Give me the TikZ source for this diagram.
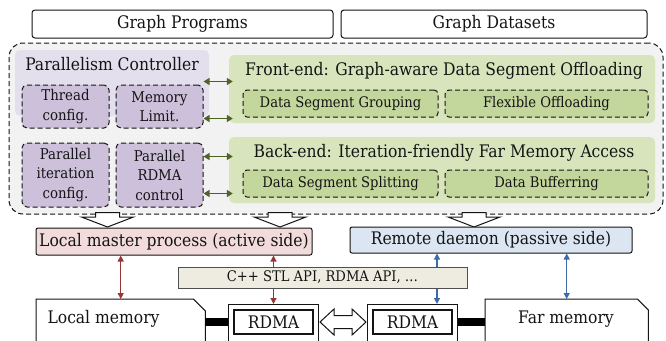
\documentclass[tikz,border=0pt]{standalone}
\usepackage{fontspec}
\setmainfont{DejaVu Serif Condensed}
\usetikzlibrary{arrows.meta,calc}

\definecolor{regionfill}{HTML}{F2F2F2}
\definecolor{ctrlfill}{HTML}{E4DFEC}
\definecolor{ctrlbox}{HTML}{CCC0DA}
\definecolor{panelfill}{HTML}{D7E4BC}
\definecolor{subfill}{HTML}{C3D69B}
\definecolor{linkgreen}{HTML}{4F6228}
\definecolor{linkred}{HTML}{953735}
\definecolor{linkblue}{HTML}{3C6CA8}
\definecolor{masterfill}{HTML}{F2DCDB}
\definecolor{daemonfill}{HTML}{DCE6F2}
\definecolor{apifill}{HTML}{EEECE1}
\definecolor{ink}{HTML}{141414}

\tikzset{
  bigfont/.style={font=\fontsize{17.3}{19}\selectfont},
  midfont/.style={font=\fontsize{14.8}{19.5}\selectfont},
  smallfont/.style={font=\fontsize{14.6}{16}\selectfont},
  dashstyle/.style={dash pattern=on 5pt off 3pt},
  topbox/.style={draw=ink, line width=1pt, rounded corners=3pt, fill=white, bigfont, inner sep=0pt},
  region/.style={draw=ink, dashstyle, line width=1pt, rounded corners=14pt, fill=regionfill},
  ctrlpanel/.style={fill=ctrlfill, rounded corners=5pt, inner sep=0pt},
  ctrlitem/.style={draw=ink, dashstyle, line width=1pt, rounded corners=5pt, fill=ctrlbox, midfont, align=center, inner sep=0pt},
  panel/.style={fill=panelfill, rounded corners=5pt, inner sep=0pt},
  subitem/.style={draw=ink, dashstyle, line width=1pt, rounded corners=4pt, fill=subfill, smallfont, inner sep=0pt},
  greenlink/.style={draw=linkgreen, line width=1.4pt, {Triangle[length=6pt,width=7pt]}-{Triangle[length=6pt,width=7pt]}},
  redlink/.style={draw=linkred, line width=1.2pt, {Triangle[length=6pt,width=6pt]}-{Triangle[length=6pt,width=6pt]}},
  bluelink/.style={draw=linkblue, line width=1.2pt, {Triangle[length=6pt,width=6pt]}-{Triangle[length=6pt,width=6pt]}},
  procbox/.style={draw=ink, line width=1pt, rounded corners=2pt, bigfont, inner sep=0pt},
  apibox/.style={draw=ink!75, line width=1pt, fill=apifill, smallfont, inner sep=0pt},
  memarea/.style={inner sep=0pt},
  memline/.style={draw=ink, line width=1pt, fill=white, line join=miter},
  rdmaouter/.style={draw=ink, line width=1pt, fill=white, inner sep=0pt},
  rdmainner/.style={draw=ink, line width=1.2pt, fill=white, bigfont, inner sep=0pt},
  hollow/.style={draw=ink, line width=1pt, fill=white, line join=miter},
}

\begin{document}
\begin{tikzpicture}[x=1pt, y=-1pt, text=ink]
\clip (0,0) rectangle (666,340);
\fill[white] (0,0) rectangle (666,340);

% inputs
\node[topbox, minimum width=301, minimum height=28] (prog) at (182.5,24) {Graph Programs};
\node[topbox, minimum width=306, minimum height=28] (data) at (494,24) {Graph Datasets};

% dashed runtime region
\node[region, minimum width=654, minimum height=171] (runtime) at (336,128.5) {};

% parallelism controller
\node[ctrlpanel, minimum width=194, minimum height=66] (ctrl) at (112,83) {};
\node[bigfont, anchor=center] (ctrltitle) at (112,64.5) {Parallelism Controller};
\node[ctrlitem, minimum width=87, minimum height=43] (thread) at (65.5,106.5) {Thread\\config.};
\node[ctrlitem, minimum width=87, minimum height=43] (mem) at (159.5,106.5) {Memory\\Limit.};
\node[ctrlitem, minimum width=87, minimum height=64] (iter) at (65.5,175) {Parallel\\iteration\\config.};
\node[ctrlitem, minimum width=87, minimum height=64] (prdma) at (159.5,175) {Parallel\\RDMA\\control};

% front-end
\node[panel, minimum width=426, minimum height=68] (front) at (442,89) {};
\node[bigfont] (fronttitle) at (444,71) {Front-end: Graph-aware Data Segment Offloading};
\node[subitem, minimum width=195, minimum height=27] (group) at (340.5,103.5) {Data Segment Grouping};
\node[subitem, minimum width=203, minimum height=27] (flex) at (546.5,103.5) {Flexible Offloading};

% back-end
\node[panel, minimum width=426, minimum height=66] (back) at (442,170) {};
\node[bigfont] (backtitle) at (444,152.5) {Back-end: Iteration-friendly Far Memory Access};
\node[subitem, minimum width=195, minimum height=27] (split) at (340.5,183.5) {Data Segment Splitting};
\node[subitem, minimum width=203, minimum height=27] (buffer) at (546.5,183.5) {Data Bufferring};

% controller <-> front/back
\coordinate (g1) at ([yshift=3pt]mem.north east);
\coordinate (g2) at ([yshift=10pt]mem.south east);
\coordinate (g3) at ([yshift=-14pt]prdma.north east);
\coordinate (g4) at ([yshift=14pt]prdma.south east);
\coordinate (fw) at ([xshift=4pt]front.west);
\coordinate (bw) at ([xshift=4pt]back.west);
\draw[greenlink] (g1) -- (fw |- g1);
\draw[greenlink] (g2) -- (fw |- g2);
\draw[greenlink] (g3) -- (bw |- g3);
\draw[greenlink] (g4) -- (bw |- g4);

% hollow arrows down from the runtime region
\foreach \cx in {107.5,280,474}{
  \draw[hollow] (\cx-12,212.5) -- (\cx+12,212.5) -- (\cx+12,217) -- (\cx+26,217)
     -- (\cx,227) -- (\cx-26,217) -- (\cx-12,217) -- cycle;
}

% processes
\node[procbox, fill=masterfill, minimum width=276, minimum height=27] (master) at (174,241.5) {Local master process (active side)};
\node[procbox, fill=daemonfill, minimum width=282, minimum height=26] (daemon) at (491,240) {Remote daemon (passive side)};

% memories: boxes with a cut top-right corner
\node[memarea, minimum width=169, minimum height=62, anchor=north west] (lmem) at (36,299) {};
\draw[memline] (lmem.south west) -- (lmem.north west) -- ([xshift=-12pt]lmem.north east)
   -- ([yshift=-12pt]lmem.north east) -- (lmem.south east);
\node[bigfont] (lmemtext) at (103.5,319) {Local memory};
\node[memarea, minimum width=163, minimum height=62, anchor=north west] (fmem) at (485,299) {};
\draw[memline] (fmem.south west) -- (fmem.north west) -- ([xshift=-11pt]fmem.north east)
   -- ([yshift=-11pt]fmem.north east) -- (fmem.south east);
\node[bigfont] (fmemtext) at (566,319) {Far memory};

% RDMA NICs
\node[rdmaouter, minimum width=90, minimum height=50, anchor=north west] (nic1) at (228,304) {};
\node[rdmainner, minimum width=79, minimum height=24] (rdma1) at (273.5,322) {RDMA};
\node[rdmaouter, minimum width=90, minimum height=50, anchor=north west] (nic2) at (367,304) {};
\node[rdmainner, minimum width=79, minimum height=24] (rdma2) at (412.5,322) {RDMA};

% cables
\draw[line width=8pt, draw=black] (lmem.east |- rdma1.center) -- (nic1.west |- rdma1.center);
\draw[line width=8pt, draw=black] (nic2.east |- rdma2.center) -- (fmem.west |- rdma2.center);

% process <-> memory / NIC links
\coordinate (nicport) at ([xshift=-21pt]nic2.north east);
\draw[redlink] (master.south -| lmem.north) -- (lmem.north);
\draw[redlink] (master.south -| nic1.north) -- (nic1.north);
\draw[bluelink] (daemon.south -| nicport) -- (nicport);
\draw[bluelink] (daemon.south -| fmem.north) -- (fmem.north);

% API layer over the links
\node[apibox, minimum width=289, minimum height=21] (api) at (322.5,277.5) {C++ STL API, RDMA API, \dots};

% NIC-to-NIC transfer
\coordinate (xl) at (nic1.east |- rdma1.center);
\coordinate (xr) at (nic2.west |- rdma2.center);
\draw[hollow] ($(xl)+(1,0)$) -- ++(14,-13) -- ++(0,6.5) -- ($(xr)+(-15,-6.5)$) -- ++(0,-6.5)
   -- ($(xr)+(-1,0)$) -- ++(-14,13) -- ++(0,-6.5) -- ($(xl)+(15,6.5)$) -- ++(0,6.5) -- cycle;
\end{tikzpicture}
\end{document}
